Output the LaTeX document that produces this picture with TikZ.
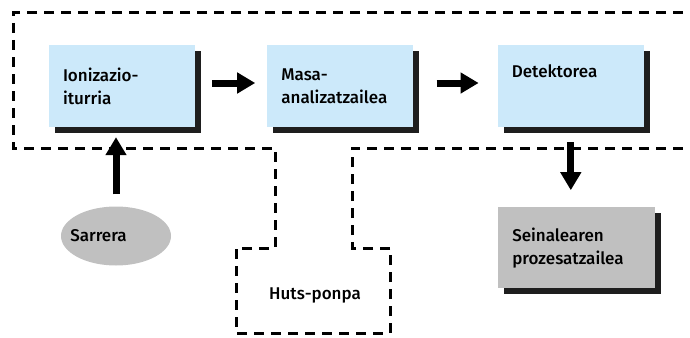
\documentclass[tikz,border=0pt]{standalone}
\usepackage{fontspec}
\setmainfont{Fira Sans}[UprightFont=* Medium]
\usepackage{tikz}
\usetikzlibrary{shapes.geometric,arrows.meta,positioning,shadows}
\definecolor{boxblue}{RGB}{204,233,250}
\definecolor{boxgray}{RGB}{192,192,192}
\definecolor{shade}{RGB}{30,30,30}
\tikzstyle{stage} = [rectangle, minimum width=146pt, minimum height=82pt,
    text width=118pt, align=left, inner xsep=14pt, fill=boxblue,
    font=\fontsize{17}{23}\selectfont,
    drop shadow={shadow xshift=6pt, shadow yshift=-6pt, fill=shade, opacity=1}]
\tikzstyle{flow} = [line width=7pt, -{Triangle[length=18pt,width=20pt]}]
\tikzstyle{vacuum} = [line width=3pt, dash pattern=on 10pt off 7pt]

\begin{document}
\begin{tikzpicture}[x=1pt,y=-1pt]
\useasboundingbox (0,0) rectangle (690,337);
% Vacuum chamber
\begin{scope}
\clip (0,0) rectangle (690,337);
\draw[vacuum] (700,13) -- (13,13) -- (13,148) -- (275,148) -- (275,248) -- (236,248)
    -- (236,333) -- (390,333) -- (390,248) -- (352,248) -- (352,148) -- (700,148);
\end{scope}
% Stages
\node[stage] (ion) at (122,86) {Ionizazio-\\iturria};
\node[stage, right=72pt of ion] (mass) {Masa-\\analizatzailea};
\node[stage, right=84pt of mass] (det) {Detektorea\\\strut};
\node[stage, fill=boxgray, minimum width=157pt, text width=129pt, minimum height=81pt,
    below=80pt of det, xshift=6pt] (proc) {Seinalearen\\prozesatzailea};
% Inlet and pump
\node[ellipse, fill=boxgray, minimum width=110pt, minimum height=59pt, inner sep=0pt,
    font=\fontsize{17}{23}\selectfont] (src) at (116,236) {\hspace*{-35pt}Sarrera};
\node[font=\fontsize{17}{23}\selectfont] (pump) at (315,295) {Huts-ponpa};
% Arrows
\draw[flow] ([xshift=17pt,yshift=3pt]ion.east) -- ([xshift=-12pt,yshift=3pt]mass.west);
\draw[flow] ([xshift=23pt,yshift=3pt]mass.east) -- ([xshift=-19pt,yshift=3pt]det.west);
\draw[flow] ([yshift=12pt]src.north) -- ([yshift=-10pt]src.north |- ion.south);
\draw[flow] ([yshift=-15pt]det.south) -- ([yshift=17pt]proc.north -| det.south);
\end{tikzpicture}
\end{document}
